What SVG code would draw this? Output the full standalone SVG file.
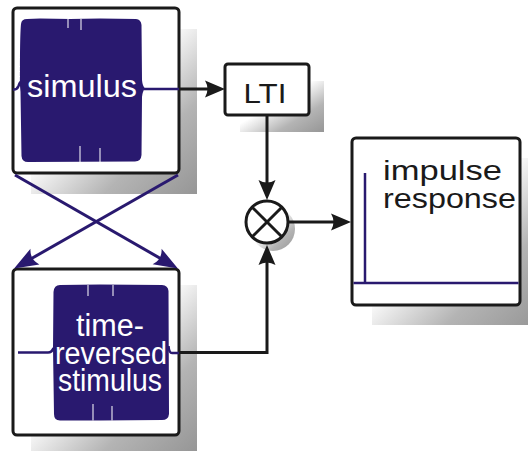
<svg xmlns="http://www.w3.org/2000/svg" width="528" height="452" viewBox="0 0 528 452">
  <style>
    .box { fill: #ffffff; stroke: #1a1a1a; stroke-width: 3; }
    .shadow { fill: url(#shade); }
    .wave { fill: #29196f; }
    .trace { fill: none; stroke: #29196f; stroke-width: 2.5; }
    .gap { stroke: #ffffff; stroke-width: 1.2; opacity: 0.85; }
    .wire { fill: none; stroke: #1a1a1a; stroke-width: 3; }
    .wire-navy { fill: none; stroke: #29196f; stroke-width: 3; }
    .txt-w { fill: #ffffff; font-family: "Liberation Sans", Arial, sans-serif; font-size: 31px; }
    .txt-b { fill: #1a1a1a; font-family: "Liberation Sans", Arial, sans-serif; font-size: 28px; }
  </style>
  <defs>
    <linearGradient id="shade" x1="0" y1="0" x2="1" y2="1">
      <stop offset="0.42" stop-color="#ffffff"/>
      <stop offset="0.72" stop-color="#b4b4b4"/>
      <stop offset="1" stop-color="#969696"/>
    </linearGradient>
    <marker id="arrow-black" markerUnits="userSpaceOnUse" orient="auto" overflow="visible" refX="0" refY="0" markerWidth="40" markerHeight="40">
      <path d="M-12,-8.5 Q-7,0 -12,8.5 L8,0 Z" fill="#1a1a1a"/>
    </marker>
    <marker id="arrow-navy" markerUnits="userSpaceOnUse" orient="auto" overflow="visible" refX="0" refY="0" markerWidth="40" markerHeight="40">
      <path d="M-15,-9 Q-9,0 -15,9 L9,0 Z" fill="#29196f"/>
    </marker>
  </defs>

  <!-- stimulus block -->
  <g id="stimulus">
    <rect class="shadow" x="31" y="29" width="166" height="165"/>
    <rect class="box" x="13" y="8" width="166" height="165" rx="4"/>
    <path class="wave" d="M20,86 C20,60 20,34 21,24 Q21.5,19 27,19 L40,18.5 L70,19 L100,18.5 L136,19 Q141,19.5 141.5,25 L142,80 Q142.5,86 145,88.5 Q142.5,91 142,97 L141.5,155 Q141,161.5 135,161.5 L28,162 Q22,162 21.5,156 L20.5,92 Z"/>
    <path class="trace" d="M13,89.5 Q17,90 18.5,86 Q19.5,83 20.5,82"/>
    <path class="trace" d="M144,89 L179,89"/>
    <line class="gap" x1="68" y1="19" x2="68" y2="28"/>
    <line class="gap" x1="81" y1="19" x2="81" y2="30"/>
    <line class="gap" x1="80" y1="146" x2="80" y2="162"/>
    <line class="gap" x1="100" y1="148" x2="100" y2="162"/>
    <text class="txt-w" x="82" y="97" text-anchor="middle" textLength="110" lengthAdjust="spacingAndGlyphs">simulus</text>
  </g>

  <!-- LTI system block -->
  <g id="lti">
    <rect class="shadow" x="240" y="81" width="84" height="51"/>
    <rect class="box" x="225" y="64" width="84" height="51" rx="3"/>
    <text class="txt-b" x="265" y="103" text-anchor="middle" font-size="27" textLength="43" lengthAdjust="spacingAndGlyphs">LTI</text>
  </g>

  <!-- multiplier -->
  <g id="multiplier">
    <circle class="shadow" cx="273" cy="229" r="22"/>
    <circle class="box" cx="267" cy="222" r="21"/>
    <line class="wire" x1="252.2" y1="207.2" x2="281.8" y2="236.8"/>
    <line class="wire" x1="281.8" y1="207.2" x2="252.2" y2="236.8"/>
  </g>

  <!-- time-reversed stimulus block -->
  <g id="reversed">
    <rect class="shadow" x="31" y="285" width="166" height="166"/>
    <rect class="box" x="13" y="269" width="166" height="166" rx="4"/>
    <path class="wave" d="M53,348 L53.5,292 Q54,285 60,285 L100,284.5 L162,285 Q168,285.5 168.5,291 L169,414 Q168.5,420 162,420 L100,420.5 L60,420.5 Q54,420.5 54,414 Z"/>
    <path class="trace" d="M18,352.5 L48,352.5 Q52,352.5 53.5,348"/>
    <path class="trace" d="M168.5,346 Q169,353.5 172.5,353 L179,353"/>
    <line class="gap" x1="88" y1="285" x2="88" y2="296"/>
    <line class="gap" x1="113" y1="285" x2="113" y2="296"/>
    <line class="gap" x1="93" y1="404" x2="93" y2="420.5"/>
    <line class="gap" x1="112" y1="406" x2="112" y2="420.5"/>
    <text class="txt-w" x="110" y="336" text-anchor="middle" font-size="30" textLength="68" lengthAdjust="spacingAndGlyphs">time-</text>
    <text class="txt-w" x="111" y="364" text-anchor="middle" font-size="30" textLength="112" lengthAdjust="spacingAndGlyphs">reversed</text>
    <text class="txt-w" x="110" y="391" text-anchor="middle" font-size="30" textLength="104" lengthAdjust="spacingAndGlyphs">stimulus</text>
  </g>

  <!-- impulse response block -->
  <g id="impulse">
    <rect class="shadow" x="372" y="158" width="168" height="167"/>
    <rect class="box" x="352" y="138" width="168" height="167" rx="4"/>
    <path class="trace" d="M353.5,283 L518.5,283" stroke-width="3"/>
    <path class="trace" d="M365,283 L365,173"/>
    <text class="txt-b" x="383" y="180" textLength="119" lengthAdjust="spacingAndGlyphs">impulse</text>
    <text class="txt-b" x="383" y="208" textLength="133" lengthAdjust="spacingAndGlyphs">response</text>
  </g>

  <!-- connectors -->
  <g id="connectors">
    <path class="wire" d="M179,89 L217,89" marker-end="url(#arrow-black)"/>
    <path class="wire" d="M267,115 L267,192" marker-end="url(#arrow-black)"/>
    <path class="wire" d="M289,222 L343,222" marker-end="url(#arrow-black)"/>
    <path class="wire" d="M179,352.5 L267,352.5 L267,253" marker-end="url(#arrow-black)"/>
    <path class="wire-navy" d="M15,175 L170.1,264" marker-end="url(#arrow-navy)"/>
    <path class="wire-navy" d="M178,175 L21.9,264" marker-end="url(#arrow-navy)"/>
  </g>
</svg>
